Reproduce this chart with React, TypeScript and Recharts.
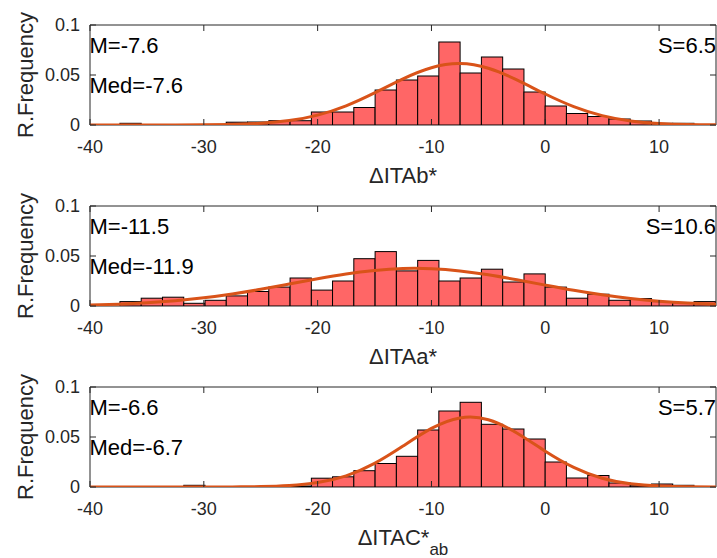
import React from 'react';
import { ComposedChart, Bar, Line, XAxis, YAxis, ReferenceArea } from 'recharts';

// ---- data ----
const BIN_CENTERS = [
  -36.43, -34.56, -32.69, -30.82, -28.95, -27.09, -25.22, -23.35, -21.48, -19.61,
  -17.75, -15.88, -14.01, -12.14, -10.27, -8.41, -6.54, -4.67, -2.8, -0.93,
  0.93, 2.8, 4.67, 6.54, 8.41, 10.27, 12.14, 14.01,
];
const BIN_WIDTH = 1.868;

const FREQ_ITAB = [
  0.0017, 0, 0, 0, 0, 0.0028, 0.003, 0.0043, 0.0043, 0.013,
  0.013, 0.0175, 0.035, 0.045, 0.049, 0.083, 0.052, 0.068, 0.056, 0.033,
  0.019, 0.0115, 0.0085, 0.006, 0.004, 0.0017, 0.0017, 0,
];
const FREQ_ITAA = [
  0.0044, 0.0078, 0.0088, 0.0027, 0.0057, 0.0101, 0.0145, 0.0189, 0.028, 0.0159,
  0.025, 0.0473, 0.0544, 0.0351, 0.0456, 0.025, 0.028, 0.0368, 0.024, 0.0321,
  0.0189, 0.0078, 0.0118, 0.0057, 0.0074, 0.0044, 0.0034, 0.0044,
];
const FREQ_ITAC = [
  0, 0, 0, 0.0017, 0, 0, 0, 0.0013, 0.001, 0.0088,
  0.0102, 0.0163, 0.0235, 0.0307, 0.057, 0.076, 0.0847, 0.0627, 0.058, 0.048,
  0.025, 0.009, 0.0115, 0.004, 0.0012, 0.003, 0.0017, 0,
];

const FIT_X = [
  -40, -37.5, -35, -32.5, -30, -27.5, -25, -22.5, -20, -17.5, -15, -12.5,
  -10, -7.5, -5, -2.5, 0, 2.5, 5, 7.5, 10, 12.5, 15,
];
const FIT_ITAB = [
  0, 0, 0.00001, 0.00004, 0.00016, 0.00057, 0.0017, 0.0044, 0.0099, 0.0192, 0.0321, 0.0462,
  0.0573, 0.0614, 0.0567, 0.0451, 0.031, 0.0184, 0.0094, 0.0041, 0.0016, 0.0005, 0.00015,
];
const FIT_ITAA = [
  0.00101, 0.00186, 0.00322, 0.00529, 0.0082, 0.01205, 0.0167, 0.022, 0.0273, 0.0321, 0.0356, 0.0375,
  0.0373, 0.0351, 0.0312, 0.0262, 0.0209, 0.0157, 0.0112, 0.00755, 0.00481, 0.0029, 0.00165,
];
const FIT_ITAC = [
  0, 0, 0, 0, 0.00002, 0.00008, 0.00038, 0.00143, 0.0044, 0.0112, 0.0236, 0.041,
  0.0586, 0.0691, 0.0673, 0.054, 0.0358, 0.0196, 0.0088, 0.0033, 0.001, 0.00026, 0.00005,
];

const X_TICKS = [-40, -30, -20, -10, 0, 10];
const Y_TICKS = [0, 0.05, 0.1];
const Y_TICK_LABELS = ['0', '0.05', '0.1'];
const X_DOMAIN: [number, number] = [-40, 15];
const Y_DOMAIN: [number, number] = [0, 0.1];

const MEAN_TEXT = ['M=-7.6', 'M=-11.5', 'M=-6.6'];
const MEDIAN_TEXT = ['Med=-7.6', 'Med=-11.9', 'Med=-6.7'];
const SD_TEXT = ['S=6.5', 'S=10.6', 'S=5.7'];
const X_LABEL_MAIN = ['\u0394ITAb*', '\u0394ITAa*', '\u0394ITAC*'];
const X_LABEL_SUB = ['', '', 'ab'];
const Y_LABEL = 'R.Frequency';

// ---- layout / style ----
const W = 717;
const H = 558;
const PLOT_L = 90;
const PLOT_R = 716;
const PLOT_T = 25;
const PLOT_H = 100;
const PLOT_B = PLOT_T + PLOT_H;
const PANEL_STEP = 181;
const CHART_H = 196;
const FONT = 'Arial, "Liberation Sans", Helvetica, sans-serif';
const AX = '#262626';
const BAR_FILL = '#FF6666';
const FIT_COLOR = '#D95319';
const BAR_PX = (BIN_WIDTH * (PLOT_R - PLOT_L)) / (X_DOMAIN[1] - X_DOMAIN[0]);

const HistBar = (props: any) => {
  const { x, y, width, height } = props;
  if (!height || height <= 0) return null;
  const cx = x + width / 2;
  return (
    <rect
      x={cx - BAR_PX / 2}
      y={y}
      width={BAR_PX}
      height={height}
      fill={BAR_FILL}
      stroke="#000000"
      strokeWidth={1}
    />
  );
};

const XTick = (props: any) => {
  const { x, payload } = props;
  return (
    <g>
      <line x1={x} x2={x} y1={PLOT_B} y2={PLOT_B - 6} stroke={AX} strokeWidth={1} />
      <line x1={x} x2={x} y1={PLOT_T} y2={PLOT_T + 6} stroke={AX} strokeWidth={1} />
      <text x={x} y={PLOT_B + 27.5} textAnchor="middle" fontSize={18} fontFamily={FONT} fill={AX}>
        {String(payload.value)}
      </text>
    </g>
  );
};

const YTick = (props: any) => {
  const { y, payload } = props;
  const label = Y_TICK_LABELS[Y_TICKS.indexOf(payload.value)] ?? String(payload.value);
  return (
    <g>
      <line x1={PLOT_L} x2={PLOT_L + 6} y1={y} y2={y} stroke={AX} strokeWidth={1} />
      <line x1={PLOT_R} x2={PLOT_R - 6} y1={y} y2={y} stroke={AX} strokeWidth={1} />
      <text x={PLOT_L - 10} y={y + 6.3} textAnchor="end" fontSize={18} fontFamily={FONT} fill={AX}>
        {label}
      </text>
    </g>
  );
};

function Panel({ idx, freq, fit }: { idx: number; freq: number[]; fit: number[] }) {
  const bars = BIN_CENTERS.map((x, i) => ({ x, y: freq[i] }));
  const curve = FIT_X.map((x, i) => ({ x, y: fit[i] }));
  const cx = (PLOT_L + PLOT_R) / 2;
  return (
    <div style={{ position: 'absolute', left: 0, top: idx * PANEL_STEP, width: W, height: CHART_H }}>
      <ComposedChart
        width={W}
        height={CHART_H}
        data={bars}
        margin={{ top: PLOT_T, right: W - PLOT_R, bottom: 0, left: 0 }}
        barGap={0}
        barCategoryGap={0}
      >
        <XAxis
          type="number"
          dataKey="x"
          domain={X_DOMAIN}
          ticks={X_TICKS}
          interval={0}
          allowDataOverflow
          height={CHART_H - PLOT_B}
          axisLine={false}
          tickLine={false}
          tick={<XTick />}
        />
        <YAxis
          type="number"
          domain={Y_DOMAIN}
          ticks={Y_TICKS}
          interval={0}
          allowDataOverflow
          width={PLOT_L}
          axisLine={false}
          tickLine={false}
          tick={<YTick />}
        />
        <Bar dataKey="y" shape={<HistBar />} isAnimationActive={false} />
        <ReferenceArea
          x1={X_DOMAIN[0]}
          x2={X_DOMAIN[1]}
          y1={Y_DOMAIN[0]}
          y2={Y_DOMAIN[1]}
          fill="none"
          stroke={AX}
          strokeWidth={1}
          fillOpacity={0}
          ifOverflow="visible"
        />
        <Line
          data={curve}
          dataKey="y"
          type="natural"
          stroke={FIT_COLOR}
          strokeWidth={3}
          dot={false}
          activeDot={false}
          isAnimationActive={false}
        />
        <text x={PLOT_L - 0.5} y={PLOT_T + 28.3} fontSize={22} fontFamily={FONT} fill="#000">
          {MEAN_TEXT[idx]}
        </text>
        <text x={PLOT_L - 0.5} y={PLOT_T + 68.3} fontSize={22} fontFamily={FONT} fill="#000">
          {MEDIAN_TEXT[idx]}
        </text>
        <text x={PLOT_R} y={PLOT_T + 28.3} textAnchor="end" fontSize={22} fontFamily={FONT} fill="#000">
          {SD_TEXT[idx]}
        </text>
        <text
          transform={`translate(32.5, ${PLOT_T + PLOT_H / 2}) rotate(-90)`}
          textAnchor="middle"
          fontSize={22}
          fontFamily={FONT}
          fill={AX}
        >
          {Y_LABEL}
        </text>
        <text x={cx} y={PLOT_B + 57.5} textAnchor="middle" fontSize={22} fontFamily={FONT} fill={AX}>
          {X_LABEL_MAIN[idx]}
          {X_LABEL_SUB[idx] ? (
            <tspan dy={10} fontSize={17}>
              {X_LABEL_SUB[idx]}
            </tspan>
          ) : null}
        </text>
      </ComposedChart>
    </div>
  );
}

export default function App() {
  return (
    <div style={{ position: 'absolute', left: 0, top: 0, width: W, height: H, background: '#fff' }}>
      <Panel idx={0} freq={FREQ_ITAB} fit={FIT_ITAB} />
      <Panel idx={1} freq={FREQ_ITAA} fit={FIT_ITAA} />
      <Panel idx={2} freq={FREQ_ITAC} fit={FIT_ITAC} />
    </div>
  );
}
